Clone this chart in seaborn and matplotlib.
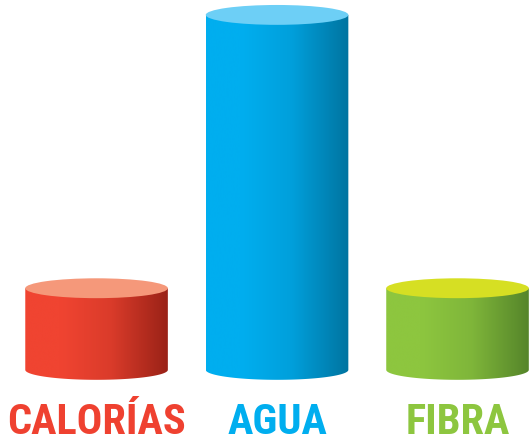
import matplotlib; matplotlib.use("Agg")
import numpy as np
import pandas as pd
import matplotlib.pyplot as plt
import seaborn as sns
from matplotlib import font_manager
from matplotlib.patches import Ellipse, Polygon
from matplotlib.colors import LinearSegmentedColormap, to_rgb

categories = ["CALORÍAS", "AGUA", "FIBRA"]
values = [23, 100, 23]
side_light = ["#F04431", "#00AEEF", "#8DC63F"]
side_dark = ["#9A2217", "#0074A0", "#55852A"]
top_colors = ["#F5987A", "#6DCFF6", "#D6DF23"]
label_colors = ["#EF4130", "#00AEEF", "#8DC63F"]

sns.set_theme(style="white")
names = {f.name for f in font_manager.fontManager.ttflist}
narrow = [n for n in ["Roboto Condensed", "Liberation Sans Narrow", "Open Sans Condensed"]
          if n in names]
if narrow:
    label_font, label_size = narrow[0], 30.5
else:
    label_font, label_size = "Liberation Sans", 25
plt.rcParams["font.family"] = [label_font, "DejaVu Sans"]

fig = plt.figure(figsize=(5.29, 4.43), dpi=100)
ax = fig.add_axes([0, 0, 1, 1])

df = pd.DataFrame({"cat": categories, "val": values})
sns.barplot(data=df, x="cat", y="val", hue="cat", palette=side_light,
            legend=False, width=0.79, ax=ax)

ax.axis("off")

ry = 2.8  # half-height of the ellipses (data units)
bars = sorted(ax.patches, key=lambda p: p.get_x())
for i, bar in enumerate(bars):
    x0, w, h = bar.get_x(), bar.get_width(), bar.get_height()
    bar.set_alpha(0)
    cx = x0 + w / 2
    # body outline: bottom half-ellipse + straight sides
    t = np.linspace(np.pi, 2 * np.pi, 60)
    arc = np.column_stack([cx + w / 2 * np.cos(t), ry * np.sin(t)])
    pts = np.vstack([arc, [[x0 + w, h], [x0, h]]])
    body = Polygon(pts, closed=True, facecolor="none", edgecolor="none")
    ax.add_patch(body)
    lo, hi = np.array(to_rgb(side_light[i])), np.array(to_rgb(side_dark[i]))
    cmap = LinearSegmentedColormap.from_list(
        f"c{i}", [(0, lo), (0.25, lo), (0.6, lo * 0.75 + hi * 0.25), (1, hi)])
    grad = np.linspace(0, 1, 256).reshape(1, -1)
    im = ax.imshow(grad, cmap=cmap, aspect="auto", extent=[x0, x0 + w, -ry, h],
                   zorder=2, interpolation="bicubic")
    im.set_clip_path(body)
    ax.add_patch(Ellipse((cx, h), w, 2 * ry, facecolor=top_colors[i],
                         edgecolor="none", zorder=3))
    ax.text(cx, -14.8, categories[i], ha="center", va="center",
            fontsize=label_size, fontweight="heavy", color=label_colors[i])

ax.set_xlim(-0.535, 2.396)
ax.set_ylim(-20.6, 104.2)
fig.savefig("out.png", dpi=100)
